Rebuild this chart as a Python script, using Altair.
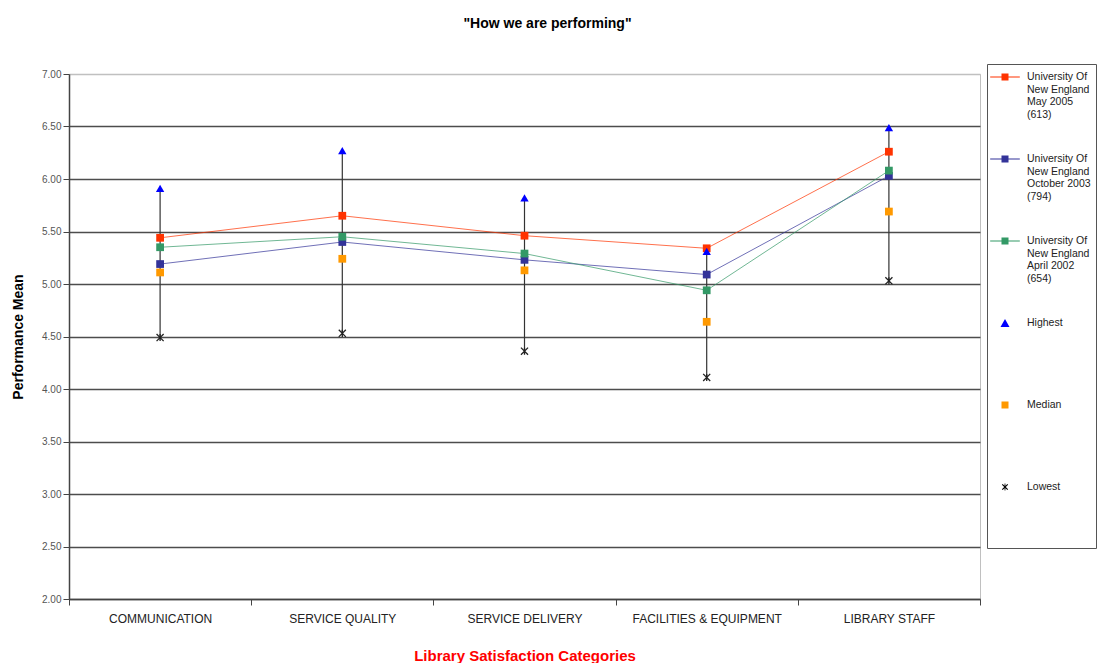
import altair as alt
import pandas as pd

categories = ["COMMUNICATION", "SERVICE QUALITY", "SERVICE DELIVERY",
              "FACILITIES & EQUIPMENT", "LIBRARY STAFF"]
series_labels = [
    "University Of|New England|May 2005|(613)",
    "University Of|New England|October 2003|(794)",
    "University Of|New England|April 2002|(654)",
]
may_2005 = [5.44, 5.65, 5.46, 5.34, 6.26]
oct_2003 = [5.19, 5.40, 5.23, 5.09, 6.03]
apr_2002 = [5.35, 5.45, 5.29, 4.94, 6.08]
highest = [5.91, 6.27, 5.82, 5.31, 6.49]
median = [5.11, 5.24, 5.13, 4.64, 5.69]
lowest = [4.49, 4.53, 4.36, 4.11, 5.03]
stat_labels = ["Highest", "Median", "Lowest"]
y_ticks = [2.0, 2.5, 3.0, 3.5, 4.0, 4.5, 5.0, 5.5, 6.0, 6.5, 7.0]

series_colors = ["#FF3300", "#333399", "#339966"]
stat_colors = ["#0000FF", "#FF9900", "#000000"]

# legend symbol paths (unit coordinates)
LINE_SQ = "M-1.9,-0.07H1.9V0.07H-1.9Z M-0.45,-0.45H0.45V0.45H-0.45Z"
TRI = "M0,-0.5L0.58,0.5L-0.58,0.5Z"
SQ = "M-0.45,-0.45H0.45V0.45H-0.45Z"
STAR = ("M-0.4,-0.3L-0.3,-0.4L0.4,0.3L0.3,0.4Z "
        "M0.3,-0.4L0.4,-0.3L-0.3,0.4L-0.4,0.3Z "
        "M-0.05,-0.45H0.05V0.45H-0.05Z")
STAR_STROKE = "M-1,-1L1,1M-1,1L1,-1M0,-1V1"

rows = []
for lab, vals in zip(series_labels, [may_2005, oct_2003, apr_2002]):
    for c, v in zip(categories, vals):
        rows.append({"category": c, "series": lab, "value": v})
series_df = pd.DataFrame(rows)
stats_df = pd.DataFrame({"category": categories, "highest": highest,
                         "median": median, "lowest": lowest})
legend_entries = series_labels + stat_labels
legend_df = pd.DataFrame({"entry": legend_entries})

FONT = "Liberation Sans"

x_enc = alt.X(
    "category:N", sort=categories,
    scale=alt.Scale(type="band", paddingInner=0, paddingOuter=0),
    axis=alt.Axis(
        title="Library Satisfaction Categories", titleColor="#FF0000",
        titleFontSize=15, titleFontWeight="bold", titlePadding=24,
        labelAngle=0, labelFontSize=12, labelColor="#222222", labelPadding=8,
        labelLimit=300, tickBand="extent", tickSize=6, tickColor="#444444",
        domainColor="#444444", domainWidth=1.5, grid=False,
    ),
)
y_scale = alt.Scale(domain=[2, 7], nice=False, zero=False)
y_axis = alt.Axis(
    values=y_ticks, format=".2f", title="Performance Mean",
    titleFontSize=14, titleFontWeight="bold", titleColor="#000000",
    titlePadding=16, labelFontSize=10, labelColor="#555555", labelPadding=2,
    tickSize=6, tickColor="#444444", domainColor="#444444", domainWidth=1.5,
    gridColor=alt.condition("datum.value == 7", alt.value("#c0c0c0"),
                            alt.value("#4d4d4d")),
    gridWidth=1.6,
)

base_stats = alt.Chart(stats_df)

rules = base_stats.mark_rule(color="#333333", strokeWidth=1.2).encode(
    x=x_enc,
    y=alt.Y("lowest:Q", scale=y_scale, axis=y_axis),
    y2="highest:Q",
)

series_color = alt.Color("series:N",
                         scale=alt.Scale(domain=series_labels, range=series_colors),
                         legend=None)

lines = alt.Chart(series_df).mark_line(strokeWidth=1, opacity=0.7).encode(
    x=x_enc, y=alt.Y("value:Q", scale=y_scale), color=series_color,
    detail="series:N",
)

med = base_stats.mark_square(size=60, color="#FF9900", opacity=1).encode(
    x=x_enc, y=alt.Y("median:Q", scale=y_scale))

pts = alt.Chart(series_df).mark_square(size=60, opacity=1).encode(
    x=x_enc, y=alt.Y("value:Q", scale=y_scale), color=series_color)

hi = base_stats.mark_point(shape="triangle-up", size=70, filled=True,
                           color="#0000FF", opacity=1).encode(
    x=x_enc, y=alt.Y("highest:Q", scale=y_scale))

lo = base_stats.mark_point(shape=STAR_STROKE, size=50, filled=False,
                           color="#222222", strokeWidth=1.3, opacity=1).encode(
    x=x_enc, y=alt.Y("lowest:Q", scale=y_scale))

# every legend entry gets the same number of text lines so the box keeps
# even spacing and leaves room below the last entry, as in the original
label_expr = ("split(datum.label + (indexof(datum.label, '|') < 0 ? "
              "'| | | | ' : '| '), '|')")

leg = alt.Legend(
    title=None, orient="none", legendX=918, legendY=-10, direction="vertical",
    columns=1, labelExpr=label_expr, labelFontSize=10.5,
    labelFont=FONT, labelColor="#222222", labelBaseline="middle",
    labelOffset=14, labelLimit=78, symbolSize=243, symbolStrokeWidth=0,
    symbolOffset=5, symbolOpacity=1, gridAlign="all", rowPadding=18,
    padding=5, strokeColor="#555555", fillColor="#FFFFFF",
)

legend_layer = alt.Chart(legend_df).transform_filter("false").mark_point(
    filled=True, size=243, opacity=1).encode(
    color=alt.Color("entry:N",
                    scale=alt.Scale(domain=legend_entries,
                                    range=series_colors + stat_colors),
                    legend=leg),
    shape=alt.Shape("entry:N",
                    scale=alt.Scale(domain=legend_entries,
                                    range=[LINE_SQ, LINE_SQ, LINE_SQ, TRI, SQ, STAR]),
                    legend=leg),
)

chart = alt.layer(rules, lines, med, pts, hi, lo, legend_layer).resolve_scale(
    color="independent", shape="independent"
).properties(
    width=911, height=525,
    title=alt.TitleParams('"How we are performing"', fontSize=14,
                          fontWeight="bold", color="#000000", offset=33,
                          anchor="middle", font=FONT, dx=23),
    padding={"left": 3, "top": 8, "right": 0, "bottom": 0},
).configure(font=FONT).configure_view(stroke="#c0c0c0", strokeWidth=1)

chart.save("out.html", embed_options={"renderer": "svg", "actions": False})
